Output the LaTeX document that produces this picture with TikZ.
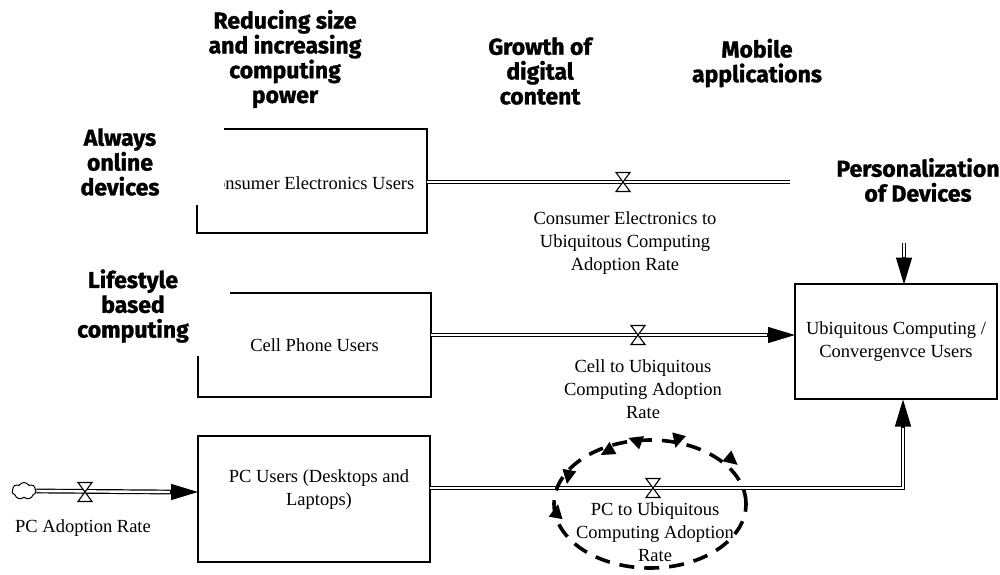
\documentclass[tikz,border=0pt]{standalone}
\usepackage{fontspec}
\setmainfont{Liberation Serif}
\newfontfamily\factorfont{Fira Sans}[BoldFeatures={FakeBold=1.3}]
\usetikzlibrary{arrows.meta,shapes.symbols,calc}

\tikzset{
  stockbox/.style={draw, line width=1.1pt, inner sep=0pt, align=center,
    font=\fontsize{18.5}{23}\selectfont},
  ratelabel/.style={align=center, inner sep=0pt, font=\fontsize{18.5}{23}\selectfont},
  factor/.style={align=center, inner sep=0pt,
    font=\factorfont\bfseries\fontsize{23}{24.8}\selectfont},
  pipe/.style={double, double distance=2.4pt, line width=1.2pt},
  pipehead/.style={-{Triangle[length=27pt,width=16pt]}, line width=1.2pt},
  loopdash/.style={line width=3.6pt, dash pattern=on 15pt off 10pt},
  valve/.pic={\filldraw[fill=white, line width=1.1pt]
      (-7,-9.5) -- (7,-9.5) -- (-7,9.5) -- (7,9.5) -- cycle;},
  loophead/.pic={\fill (6,0) -- (-8,-7) -- (-8,7) -- cycle;}
}

\begin{document}
\begin{tikzpicture}[x=1pt,y=-1pt]
\useasboundingbox (0,0) rectangle (1000,574);

% stocks
\node[stockbox, minimum width=230pt, minimum height=104pt] (ce) at (312,181) {};
\node[ratelabel] (cetext) at (309,183) {Consumer Electronics Users};
\node[stockbox, minimum width=233pt, minimum height=104pt] (cell) at (314.5,345)
  {Cell Phone Users};
\node[stockbox, minimum width=232pt, minimum height=126pt] (pc) at (314,499) {};
\node[ratelabel] (pctext) at (319,490) {PC Users (Desktops and\\Laptops)};
\node[stockbox, minimum width=202pt, minimum height=115pt] (uc) at (896,341.5)
  {Ubiquitous Computing /\\Convergenvce Users};

% cloud source of the PC inflow
\node[cloud, draw, line width=1pt, cloud puffs=7, cloud puff arc=120,
  minimum width=24pt, minimum height=17pt, inner sep=0pt] (src) at (24,491) {};

% pipe end points
\coordinate (ceA) at (427,182);
\coordinate (ceB) at (790,182);
\coordinate (cellA) at (431,335);
\coordinate (cellB) at (795,335);
\coordinate (pcA) at (430,488);
\coordinate (pcC) at (903,488);
\coordinate (pcB) at (903,399.5);
\coordinate (topA) at (904,243);
\coordinate (topB) at (904,284.5);
\coordinate (srcB) at (198,492);

% flows
\draw[pipe] (ceA) -- (ceB);
\draw[pipe] (cellA) -- ($(cellB)+(-26,0)$);
\draw[pipehead] ($(cellB)+(-28,0)$) -- (cellB);
\draw[pipe] (pcA) -- (pcC) -- ($(pcB)+(0,26)$);
\draw[pipehead] ($(pcB)+(0,28)$) -- (pcB);
\draw[pipe] (topA) -- ($(topB)+(0,-26)$);
\draw[pipehead] ($(topB)+(0,-28)$) -- (topB);
\draw[pipe] (src.east) -- ($(srcB)+(-26,0)$);
\draw[pipehead] ($(srcB)+(-28,0)$) -- (srcB);

% valves
\pic at (623,182) {valve};
\pic at (638,335) {valve};
\pic at (653,488) {valve};
\pic at (85,492) {valve};

% rate labels
\node[ratelabel] (cerate) at (625,243)
  {Consumer Electronics to\\Ubiquitous Computing\\Adoption Rate};
\node[ratelabel] (cellrate) at (643,389)
  {Cell to Ubiquitous\\Computing Adoption\\Rate};
\node[ratelabel] (pcrate) at (655,532)
  {PC to Ubiquitous\\Computing Adoption\\Rate};
\node[ratelabel] (pcadopt) at (83,528) {PC Adoption Rate};

% dashed loop around the PC rate
\draw[loopdash] (650,504) ellipse [x radius=96pt, y radius=64pt];
\pic[rotate=-40] at (733,461) {loophead};
\pic[rotate=-105] at (677,442) {loophead};
\pic[rotate=160] at (634,440) {loophead};
\pic[rotate=-150] at (606,452) {loophead};
\pic[rotate=-100] at (568,478) {loophead};
\pic[rotate=80] at (557,510) {loophead};

% white label panels over the left edges of the stocks
\fill[white] (55,112) rectangle (224,205);
\fill[white] (55,262) rectangle (230,356);

% driving factors
\node[factor] (f1) at (285,59) {Reducing size\\and increasing\\computing\\power};
\node[factor] (f2) at (540,71) {Growth of\\digital\\content};
\node[factor] (f3) at (757,63) {Mobile\\applications};
\node[factor] (f4) at (120,162) {Always\\online\\devices};
\node[factor] (f5) at (133,306) {Lifestyle\\based\\computing};
\node[factor] (f6) at (918,180) {Personalization\\of Devices};
\end{tikzpicture}
\end{document}
